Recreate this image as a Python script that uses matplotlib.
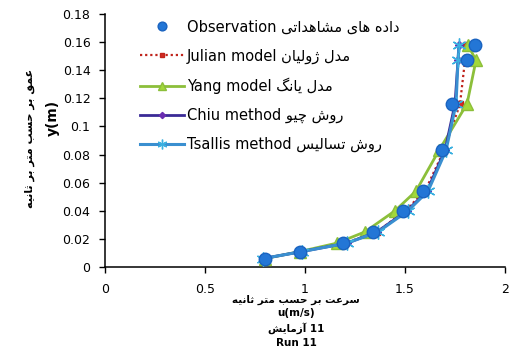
import numpy as np
import matplotlib.pyplot as plt

# depth (m) and velocity (m/s)
y_depth = [0.006, 0.011, 0.017, 0.025, 0.040, 0.054, 0.083, 0.116, 0.147, 0.158]
u_obs = [0.80, 0.975, 1.19, 1.34, 1.49, 1.59, 1.685, 1.735, 1.81, 1.85]
u_julian = [0.79, 0.98, 1.20, 1.36, 1.50, 1.60, 1.695, 1.775, 1.80, 1.805]
u_yang = [0.80, 0.975, 1.16, 1.30, 1.45, 1.555, 1.67, 1.81, 1.855, 1.815]
u_chiu = [0.79, 0.985, 1.21, 1.36, 1.51, 1.61, 1.70, 1.75, 1.765, 1.77]
u_tsallis = [0.79, 0.985, 1.21, 1.365, 1.515, 1.615, 1.705, 1.755, 1.765, 1.77]

x_ticks = [0, 0.5, 1, 1.5, 2]
x_ticklabels = ['0', '0.5', '1', '1.5', '2']
y_ticks = [0, 0.02, 0.04, 0.06, 0.08, 0.1, 0.12, 0.14, 0.16, 0.18]
y_ticklabels = ['0', '0.02', '0.04', '0.06', '0.08', '0.1', '0.12', '0.14', '0.16', '0.18']

# small Persian shaper: (isolated, final, initial, medial) presentation forms
FORMS = {
    'ا': (0xFE8D, 0xFE8E, None, None),
    'آ': (0xFE81, 0xFE82, None, None),
    'ب': (0xFE8F, 0xFE90, 0xFE91, 0xFE92),
    'ت': (0xFE95, 0xFE96, 0xFE97, 0xFE98),
    'ث': (0xFE99, 0xFE9A, 0xFE9B, 0xFE9C),
    'ح': (0xFEA1, 0xFEA2, 0xFEA3, 0xFEA4),
    'چ': (0xFB7A, 0xFB7B, 0xFB7C, 0xFB7D),
    'د': (0xFEA9, 0xFEAA, None, None),
    'ر': (0xFEAD, 0xFEAE, None, None),
    'ز': (0xFEAF, 0xFEB0, None, None),
    'ژ': (0xFB8A, 0xFB8B, None, None),
    'س': (0xFEB1, 0xFEB2, 0xFEB3, 0xFEB4),
    'ش': (0xFEB5, 0xFEB6, 0xFEB7, 0xFEB8),
    'ع': (0xFEC9, 0xFECA, 0xFECB, 0xFECC),
    'ق': (0xFED5, 0xFED6, 0xFED7, 0xFED8),
    'گ': (0xFB92, 0xFB93, 0xFB94, 0xFB95),
    'ل': (0xFEDD, 0xFEDE, 0xFEDF, 0xFEE0),
    'م': (0xFEE1, 0xFEE2, 0xFEE3, 0xFEE4),
    'ن': (0xFEE5, 0xFEE6, 0xFEE7, 0xFEE8),
    'ه': (0xFEE9, 0xFEEA, 0xFEEB, 0xFEEC),
    'و': (0xFEED, 0xFEEE, None, None),
    'ی': (0xFBFC, 0xFBFD, 0xFBFE, 0xFBFF),
}


def fa(text):
    '''shape Persian letters and reverse them for left-to-right drawing'''
    out = []
    for i, c in enumerate(text):
        if c not in FORMS:
            out.append(c)
            continue
        prev = text[i - 1] if i > 0 else ''
        nxt = text[i + 1] if i + 1 < len(text) else ''
        join_prev = prev in FORMS and FORMS[prev][2] is not None
        join_next = nxt in FORMS and FORMS[c][2] is not None
        iso, fin, ini, med = FORMS[c]
        if join_prev and join_next:
            code = med
        elif join_prev:
            code = fin
        elif join_next:
            code = ini
        else:
            code = iso
        out.append(chr(code))
    return ''.join(out)[::-1]


labels = ['Observation ' + fa('داده های مشاهداتی'),
          'Julian model ' + fa('مدل ژولیان'),
          'Yang model ' + fa('مدل یانگ'),
          'Chiu method ' + fa('روش چیو'),
          'Tsallis method ' + fa('روش تسالیس')]

plt.rcParams['font.family'] = ['DejaVu Sans']

fig = plt.figure(figsize=(5.11, 3.51), dpi=100, facecolor='white')
ax = fig.add_axes([105 / 511, 84 / 351, 400 / 511, 253 / 351])

ax.plot(u_julian, y_depth, color='#c0241c', lw=1.6, ls=(0, (1, 1.3)),
        marker='s', ms=4, mfc='#d42a22', mec='#c0241c', label=labels[1], zorder=3)
ax.plot(u_yang, y_depth, color='#8cbf3a', lw=2, marker='^', ms=9,
        mfc='#a3d83a', mec='#8cbf3a', label=labels[2], zorder=4)
ax.plot(u_chiu, y_depth, color='#3a2a96', lw=2, marker='D', ms=4.5,
        mfc='#6a2db0', mec='#6a2db0', label=labels[3], zorder=5)
ax.plot(u_tsallis, y_depth, color='#3a8fd0', lw=2.2, marker=(6, 2, 0), ms=10,
        mec='#3ab0e0', mew=1, label=labels[4], zorder=6)
ax.plot(u_obs, y_depth, ls='none', marker='o', ms=9, mfc='#2376d6',
        mec='#1a63c0', label=labels[0], zorder=7)

ax.set_xlim(0, 2)
ax.set_ylim(0, 0.18)
ax.set_xticks(x_ticks)
ax.set_xticklabels(x_ticklabels, fontsize=9)
ax.set_yticks(y_ticks)
ax.set_yticklabels(y_ticklabels, fontsize=9)
ax.tick_params(axis='both', direction='out', length=4.5, width=1, color='black')
ax.tick_params(axis='y', pad=6)
ax.tick_params(axis='x', pad=7)
for s in ['top', 'right']:
    ax.spines[s].set_visible(False)
for s in ['left', 'bottom']:
    ax.spines[s].set_linewidth(1.1)
    ax.spines[s].set_color('black')

# legend in series order of the original chart
h, l = ax.get_legend_handles_labels()
order = [4, 0, 1, 2, 3]
ax.legend([h[i] for i in order], [l[i] for i in order], loc='upper left',
          bbox_to_anchor=(0.0875, 0.978), frameon=False, fontsize=10.5,
          borderpad=0, borderaxespad=0, handlelength=3.0, handletextpad=0.2,
          labelspacing=0.95, markerscale=0.7)

# axis titles
fig.text(30 / 511, 1 - 138 / 351, fa('عمق بر حسب متر بر ثانیه'), rotation=90,
         ha='center', va='center', fontsize=8, fontweight='bold')
fig.text(53 / 511, 1 - 118 / 351, 'y(m)', rotation=90,
         ha='center', va='center', fontsize=10, fontweight='bold')
xlab = [fa('سرعت بر حسب متر ثانیه'), 'u(m/s)', fa('آزمایش') + ' 11', 'Run 11']
xlab_y = [300, 313.5, 328.5, 343.5]
for t, yy in zip(xlab, xlab_y):
    fig.text(296 / 511, 1 - yy / 351, t, ha='center', va='center',
             fontsize=7.5, fontweight='bold')

fig.savefig('out.png', dpi=100)
